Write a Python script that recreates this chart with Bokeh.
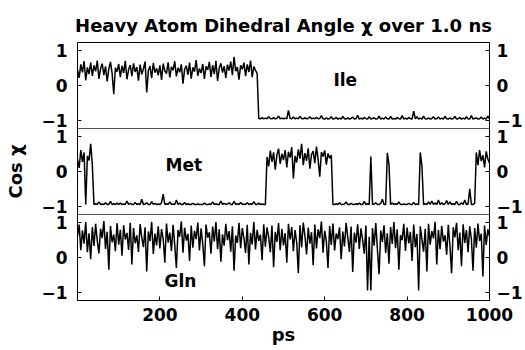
import numpy as np
from bokeh.plotting import figure
from bokeh.models import Range1d, FixedTicker, LinearAxis, Label, Span, ColumnDataSource
from bokeh.transform import dodge
from bokeh.embed import file_html
from bokeh.resources import INLINE

# ---------------- data ----------------
step_ps = 4
time_ps = np.arange(0, 1000 + step_ps, step_ps)  # 251 samples, 0..1000 ps

ile = [
    0.45, 0.22, 0.61, 0.38, 0.70, 0.15, 0.52, 0.33, 0.66, 0.28, 0.58, 0.41, 0.72, 0.19, 0.49, 0.63, 0.30, 0.55, 0.12, 0.47, 0.68, 0.35, -0.25, 0.51, 0.40,
    0.62, 0.24, 0.57, 0.36, 0.71, 0.18, 0.46, 0.59, 0.27, 0.64, 0.39, 0.53, 0.14, 0.60, 0.32, 0.48, 0.69, -0.20, 0.43, 0.56, 0.21, 0.65, 0.37, 0.50, 0.29,
    0.58, 0.16, 0.63, 0.42, 0.34, 0.67, 0.23, 0.54, 0.44, 0.70, 0.26, 0.51, 0.38, 0.61, 0.05, 0.47, 0.57, 0.31, 0.66, 0.20, 0.52, 0.40, 0.73, 0.28, 0.49,
    0.36, 0.62, 0.19, 0.55, 0.45, 0.68, 0.25, 0.59, 0.33, 0.71, 0.13, 0.50, 0.64, 0.37, 0.56, 0.22, 0.60, 0.43, 0.69, 0.30, 0.83, 0.41, 0.53, 0.17, 0.58,
    0.47, 0.66, 0.27, 0.61, 0.39, 0.72, 0.24, 0.55, 0.44, 0.35, -0.95, -0.96, -0.93, -0.96, -0.94, -0.96, -0.90, -0.95, -0.96, -0.93, -0.96, -0.95, -0.88, -0.96, -0.94,
    -0.96, -0.94, -0.96, -0.72, -0.95, -0.96, -0.91, -0.96, -0.94, -0.96, -0.89, -0.95, -0.96, -0.93, -0.96, -0.95, -0.90, -0.96, -0.94, -0.96, -0.92, -0.96, -0.95, -0.87, -0.96,
    -0.97, -0.93, -0.97, -0.95, -0.90, -0.97, -0.96, -0.92, -0.97, -0.94, -0.97, -0.89, -0.96, -0.97, -0.93, -0.97, -0.95, -0.91, -0.97, -0.96, -0.86, -0.97, -0.94, -0.97, -0.92,
    -0.96, -0.97, -0.90, -0.97, -0.95, -0.93, -0.97, -0.96, -0.88, -0.97, -0.94, -0.97, -0.91, -0.96, -0.97, -0.89, -0.97, -0.95, -0.97, -0.92, -0.96, -0.97, -0.87, -0.97, -0.94,
    -0.97, -0.92, -0.96, -0.97, -0.74, -0.96, -0.90, -0.97, -0.94, -0.97, -0.88, -0.96, -0.97, -0.93, -0.97, -0.95, -0.90, -0.97, -0.96, -0.91, -0.97, -0.94, -0.97, -0.89, -0.96,
    -0.97, -0.93, -0.97, -0.95, -0.89, -0.97, -0.96, -0.92, -0.97, -0.94, -0.97, -0.90, -0.96, -0.97, -0.87, -0.97, -0.95, -0.93, -0.97, -0.96, -0.91, -0.97, -0.94, -0.97, -0.88,
    -0.96,
]

met = [
    0.35, 0.10, 0.62, 0.28, 0.55, -0.95, 0.45, 0.32, 0.80, 0.18, -0.95, -0.93, -0.95, -0.88, -0.95, -0.94, -0.95, -0.90, -0.95, -0.95, -0.86, -0.95, -0.93, -0.95, -0.91,
    -0.95, -0.91, -0.95, -0.94, -0.95, -0.85, -0.95, -0.92, -0.95, -0.95, -0.89, -0.95, -0.93, -0.95, -0.80, -0.95, -0.94, -0.90, -0.95, -0.95, -0.87, -0.95, -0.92, -0.95, -0.94,
    -0.95, -0.90, -0.65, -0.95, -0.93, -0.95, -0.88, -0.95, -0.94, -0.95, -0.82, -0.95, -0.91, -0.95, -0.95, -0.89, -0.95, -0.93, -0.95, -0.95, -0.92, -0.95, -0.95, -0.94, -0.95,
    -0.95, -0.95, -0.91, -0.95, -0.95, -0.94, -0.95, -0.88, -0.95, -0.93, -0.95, -0.95, -0.85, -0.95, -0.92, -0.95, -0.94, -0.90, -0.95, -0.95, -0.86, -0.95, -0.93, -0.95, -0.89,
    -0.95, -0.94, -0.95, -0.90, -0.95, -0.93, -0.95, -0.87, -0.95, -0.95, -0.91, -0.95, -0.94, -0.95, -0.95, 0.42, 0.15, 0.60, 0.28, 0.55, 0.05, 0.48, 0.66, 0.22, 0.51,
    0.33, 0.62, 0.12, 0.57, 0.40, 0.70, -0.20, 0.45, 0.26, 0.64, 0.37, 0.80, 0.18, 0.53, 0.31, 0.67, 0.08, 0.49, 0.59, 0.24, 0.72, 0.35, -0.15, 0.56, 0.43,
    0.61, 0.20, 0.52, 0.38, 0.47, -0.95, -0.95, -0.93, -0.95, -0.90, -0.95, -0.95, -0.94, -0.88, -0.95, -0.95, -0.92, -0.95, -0.95, -0.93, -0.95, -0.91, -0.95, -0.95, -0.86,
    -0.95, -0.93, -0.95, 0.43, -0.95, -0.94, -0.90, -0.95, -0.95, -0.92, -0.80, -0.95, -0.95, 0.54, 0.20, -0.95, -0.91, -0.95, -0.93, -0.95, -0.88, -0.95, -0.95, -0.94, -0.95,
    -0.95, -0.92, -0.95, -0.95, -0.89, -0.95, -0.94, -0.95, 0.55, 0.15, -0.95, -0.93, -0.95, -0.88, -0.95, -0.85, -0.95, -0.91, -0.95, -0.82, -0.95, -0.90, -0.95, -0.93, -0.84,
    -0.95, -0.88, -0.95, -0.93, -0.95, -0.86, -0.95, -0.95, -0.90, -0.95, -0.82, -0.95, -0.94, -0.50, -0.95, -0.95, -0.92, 0.55, 0.18, 0.62, 0.30, 0.47, 0.12, 0.58, 0.36,
    0.25,
]

gln = [
    0.62, 0.95, 0.21, 0.78, 0.40, 1.02, 0.15, 0.70, -0.05, 0.88, 0.33, 0.97, 0.48, 0.12, 0.83, 0.56, 1.05, 0.25, 0.74, -0.35, 0.91, 0.44, 0.66, 0.18, 0.99,
    0.37, 0.80, 0.05, 0.93, 0.52, 0.71, 0.22, 1.00, -0.20, 0.85, 0.41, 0.64, 0.16, 0.96, 0.58, 0.30, 0.87, -0.40, 0.75, 0.47, 1.03, 0.10, 0.69, 0.35, 0.90,
    0.26, 0.82, 0.54, -0.15, 0.98, 0.43, 0.72, 0.19, 0.94, 0.36, -0.30, 0.79, 0.60, 1.04, 0.14, 0.86, 0.49, 0.68, -0.10, 0.92, 0.28, 0.77, 0.53, 1.01, 0.20,
    0.84, 0.39, -0.25, 0.95, 0.57, 0.73, 0.11, 0.89, 0.46, 1.02, 0.24, 0.81, -0.12, 0.67, 0.34, 0.97, 0.50, 0.76, 0.17, 0.90, -0.38, 0.63, 0.42, 1.00, 0.27,
    0.85, 0.55, 0.13, 0.94, -0.20, 0.71, 0.38, 1.03, 0.23, 0.80, 0.48, 0.66, -0.08, 0.96, 0.31, 0.87, 0.59, 0.15, 0.92, -0.28, 0.74, 0.45, 0.99, 0.21, 0.83,
    0.35, 0.70, -0.15, 0.97, 0.52, 0.88, 0.18, 0.79, 0.44, -0.45, 0.93, 0.29, 1.01, 0.62, 0.09, 0.86, 0.40, 0.73, -0.22, 0.95, 0.26, 0.81, 0.56, 1.04, 0.14,
    0.77, 0.47, -0.30, 0.91, 0.36, 0.98, 0.20, 0.69, 0.53, 0.87, -0.05, 0.75, 0.32, 1.00, 0.58, 0.16, 0.89, -0.42, 0.72, 0.43, 0.96, 0.25, 0.84, 0.51, 0.11,
    0.92, -0.95, 0.60, -0.95, 0.85, 0.34, 0.99, 0.22, -0.48, 0.78, 0.45, 0.93, 0.13, 0.70, -0.18, 0.88, 0.39, 1.02, 0.27, 0.81, -0.35, 0.65, 0.50, 0.97, 0.19,
    0.86, 0.41, 0.74, -0.10, 0.95, 0.30, 0.68, -0.95, 0.90, 0.52, 0.17, 0.83, -0.40, 0.97, 0.37, 0.76, 0.55, 1.03, -0.20, 0.80, 0.24, 0.91, 0.46, 0.64, 0.08,
    0.94, 0.33, -0.45, 0.87, 0.58, 1.00, 0.21, 0.72, -0.25, 0.96, 0.42, 0.79, 0.15, 0.90, 0.54, -0.38, 0.85, 0.28, 0.98, 0.47, 0.69, -0.55, 0.92, 0.36, 0.81,
    0.60,
]

residues = ["Ile", "Met", "Gln"]
residue_label_x = [650, 258, 250]
residue_label_y = [0.16, 0.19, -0.67]

# stacked panels share one frame: each panel's cos(chi) axis is shifted by
# a fixed offset (the panel span, -1.24..1.24) through Bokeh's dodge transform
panel_span = 2.48
panel_offsets = [2 * panel_span, panel_span, 0.0]          # Ile, Met, Gln
panel_limits = (-1.24, 1.24)

y_tick_values = [-1, 0, 1, 1.48, 2.48, 3.48, 3.96, 4.96, 5.96]
y_tick_texts = ["\u22121", "0", "1"] * 3
x_ticks = [200, 400, 600, 800, 1000]

title_text = "Heavy Atom Dihedral Angle \u03c7 over 1.0 ns"
y_label = "Cos \u03c7"
x_label = "ps"

# ---------------- styling ----------------
FONT = "DejaVu Sans"
FS = "17px"

source = ColumnDataSource(dict(t=time_ps, ile=ile, met=met, gln=gln))

y_lo = panel_limits[0]
y_hi = panel_limits[1] + panel_offsets[0]

p = figure(
    width=525, height=350,
    x_range=Range1d(0, 1000), y_range=Range1d(y_lo, y_hi),
    output_backend="svg", toolbar_location=None,
    min_border_left=77, min_border_right=33, min_border_top=42, min_border_bottom=50,
    background_fill_color="white", border_fill_color="white",
)
p.grid.visible = False
p.outline_line_color = "black"
p.outline_line_width = 1
p.outline_line_alpha = 1.0

overrides = {v: t for v, t in zip(y_tick_values, y_tick_texts)}


def style_axis(ax, ticks, overrides=None, standoff=10):
    ax.ticker = FixedTicker(ticks=ticks)
    if overrides:
        ax.major_label_overrides = overrides
    ax.major_tick_in = 4
    ax.major_tick_out = 0
    ax.minor_tick_in = 0
    ax.minor_tick_out = 0
    ax.major_tick_line_color = "black"
    ax.axis_line_color = "black"
    ax.major_label_text_font = FONT
    ax.major_label_text_font_style = "bold"
    ax.major_label_text_font_size = FS
    ax.major_label_text_color = "black"
    ax.major_label_standoff = standoff


style_axis(p.yaxis[0], y_tick_values, overrides, standoff=10)
p.yaxis[0].axis_label = y_label
p.yaxis[0].axis_label_text_font = FONT
p.yaxis[0].axis_label_text_font_style = "bold"
p.yaxis[0].axis_label_text_font_size = "18px"
p.yaxis[0].axis_label_text_color = "black"
p.yaxis[0].axis_label_standoff = 12

right = LinearAxis()
style_axis(right, y_tick_values, overrides, standoff=7)
p.add_layout(right, "right")

style_axis(p.xaxis[0], x_ticks, standoff=7)
p.xaxis[0].axis_label = x_label
p.xaxis[0].axis_label_text_font = FONT
p.xaxis[0].axis_label_text_font_style = "bold"
p.xaxis[0].axis_label_text_font_size = "18px"
p.xaxis[0].axis_label_text_color = "black"
p.xaxis[0].axis_label_standoff = 0

p.title.text = title_text
p.title.align = "center"
p.title.text_font = FONT
p.title.text_font_style = "bold"
p.title.text_font_size = "18px"
p.title.text_color = "black"
p.title.standoff = 14

# panel separators
for off in panel_offsets[:2]:
    p.add_layout(Span(location=off + panel_limits[0], dimension="width",
                      line_color="#555555", line_width=1))

for name, off in zip(["ile", "met", "gln"], panel_offsets):
    p.line(x="t", y=dodge(name, off, range=p.y_range), source=source,
           line_color="black", line_width=1.5)

for text, off, lx, ly in zip(residues, panel_offsets, residue_label_x, residue_label_y):
    p.add_layout(Label(x=lx, y=ly + off, text=text, text_align="center",
                       text_baseline="middle", text_font=FONT,
                       text_font_style="bold", text_font_size=FS,
                       text_color="black"))

with open("out.html", "w") as f:
    f.write(file_html(p, INLINE))
